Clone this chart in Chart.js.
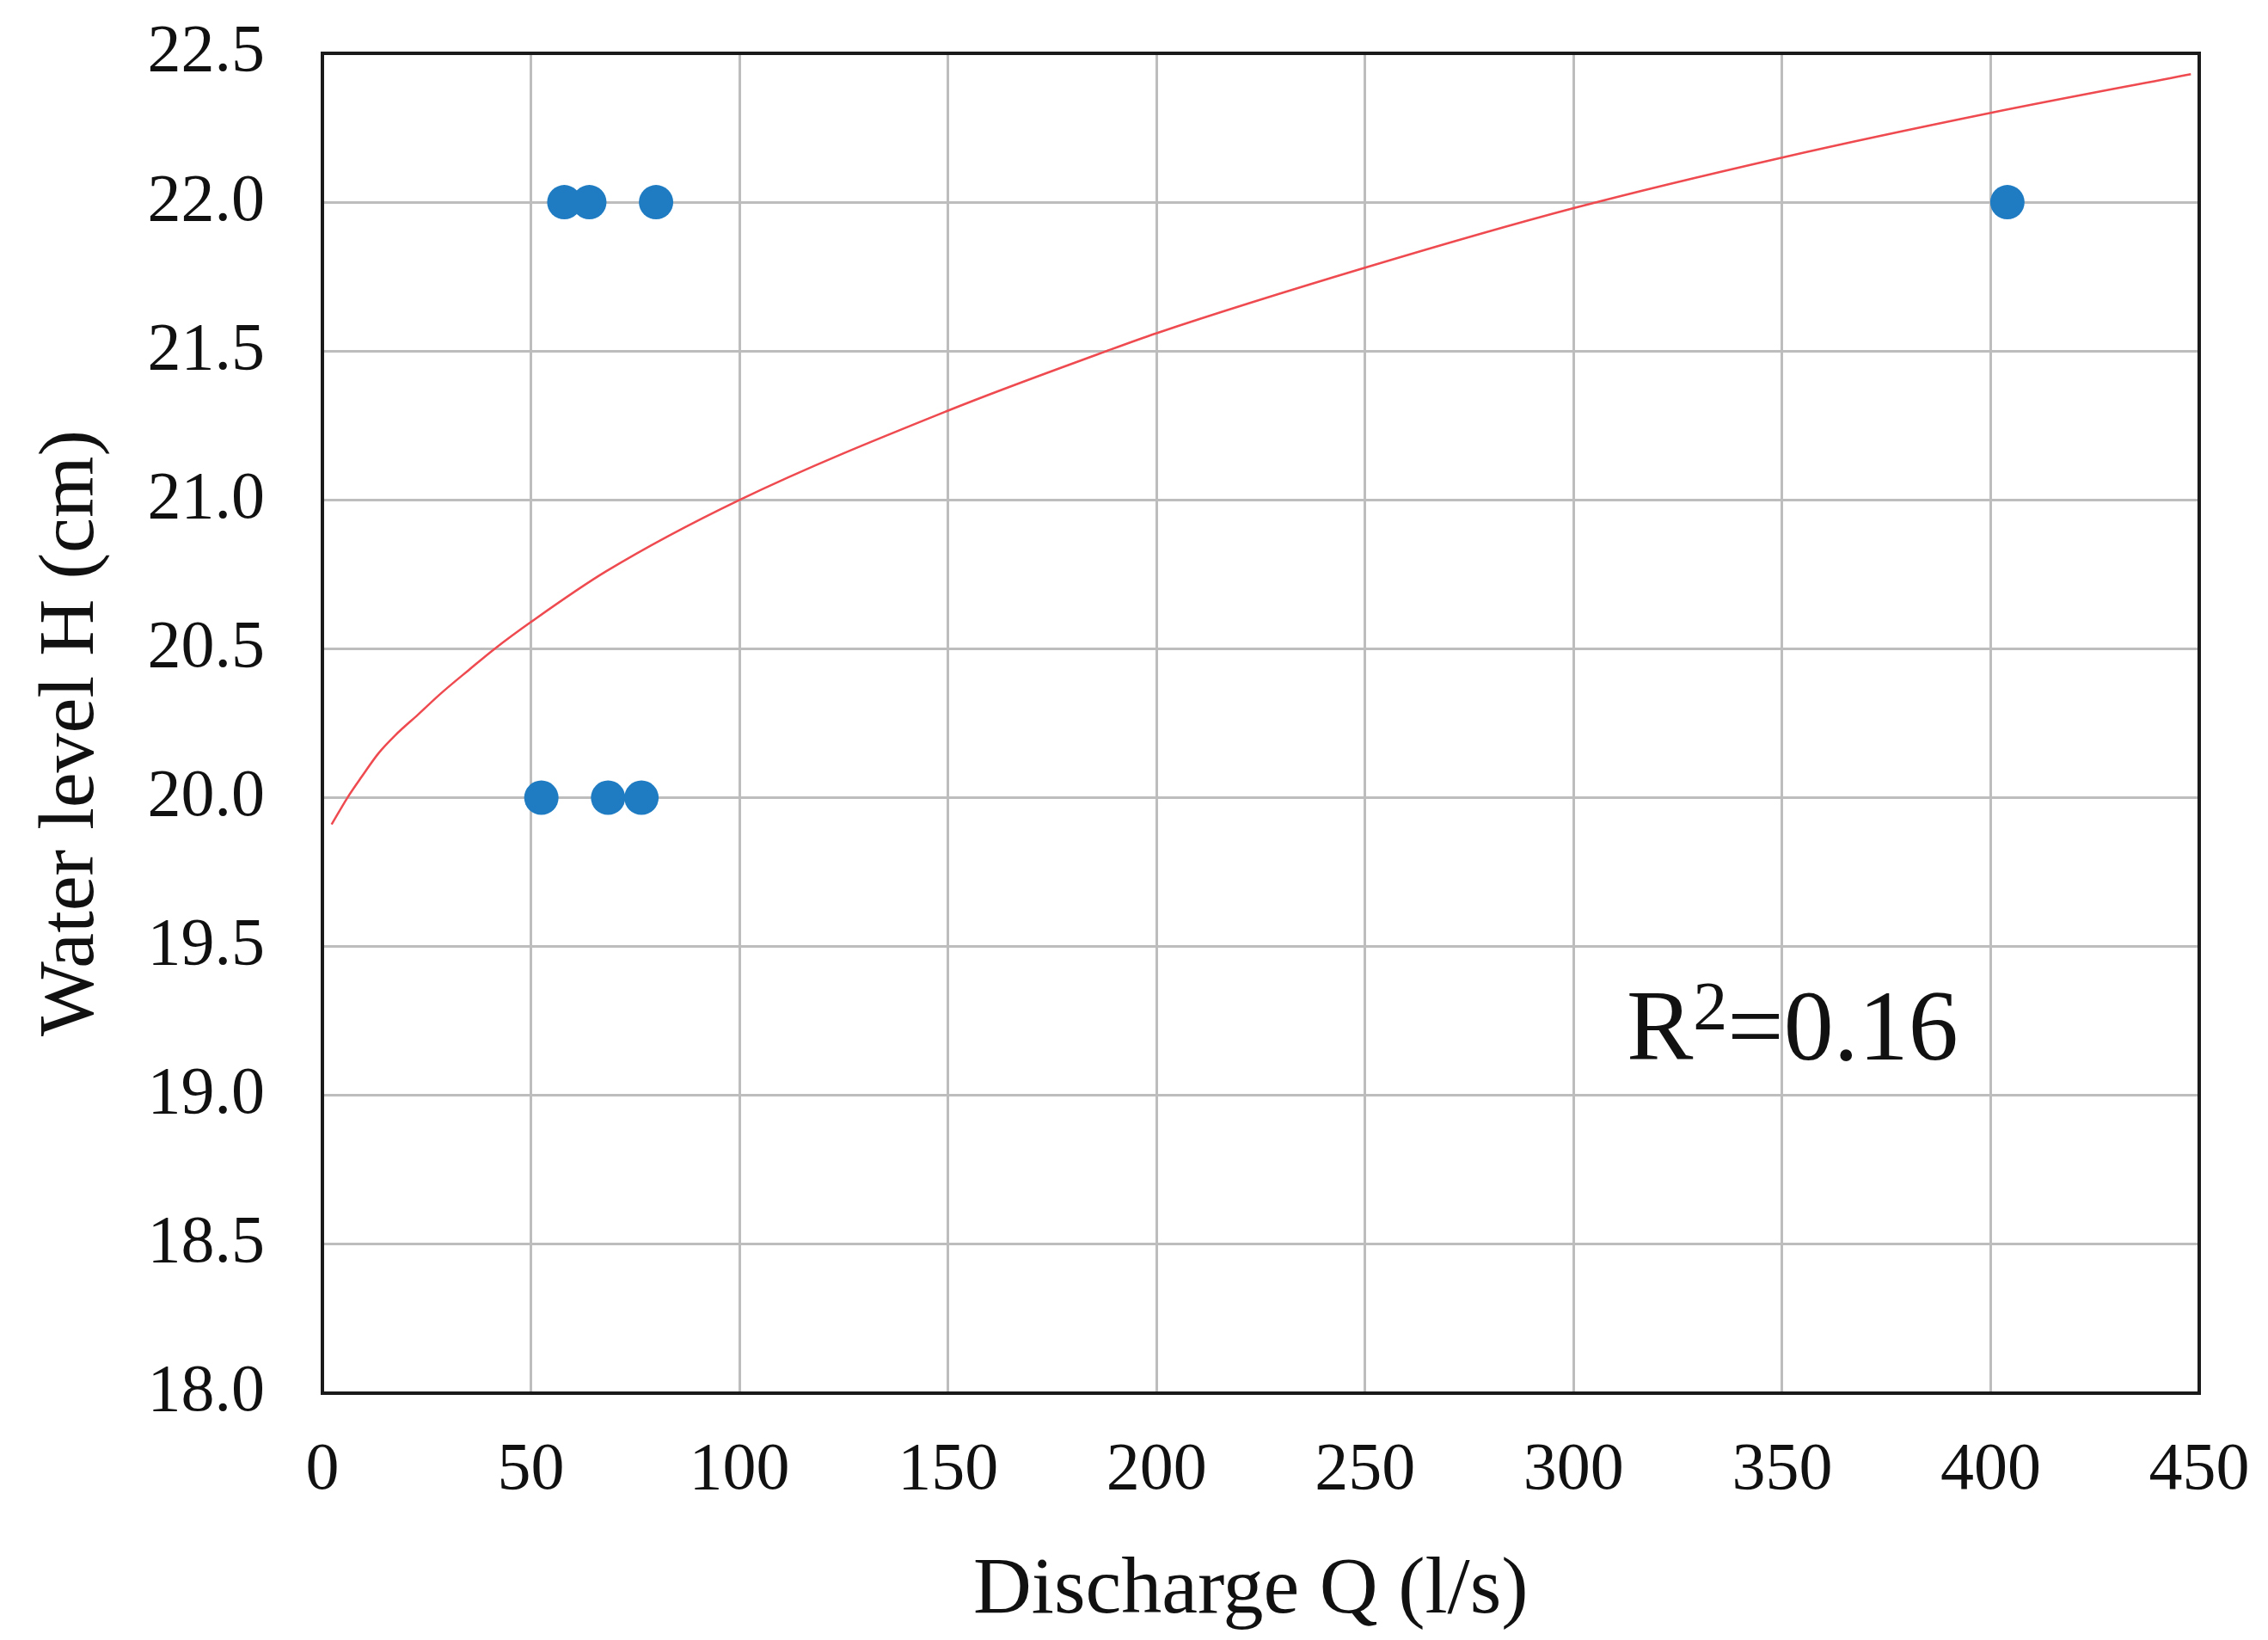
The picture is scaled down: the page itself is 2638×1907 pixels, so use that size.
<!DOCTYPE html>
<html>
<head>
<meta charset="utf-8">
<title>Water level vs discharge</title>
<script src="https://cdn.jsdelivr.net/npm/chart.js@4.4.1/dist/chart.umd.min.js"></script>
<style>
    html, body { margin: 0; padding: 0; background: #ffffff; }
    #rating { display: block; }
</style>
</head>
<body>
<canvas id="rating" width="2638" height="1907"></canvas>
<script>
// Measured points (Q in l/s, H in cm)
const pointQ = [58, 64, 80, 404, 52.5, 68.5, 76.5];
const pointH = [22.0, 22.0, 22.0, 22.0, 20.0, 20.0, 20.0];

// Fitted curve
const curveQ = [2.2, 6, 9.4, 13.5, 17.5, 23, 28.4, 35.2, 41.3, 50, 68, 100, 150, 188, 200, 250, 300, 350, 400, 448];
const curveH = [19.91, 20.0, 20.07, 20.15, 20.21, 20.28, 20.35, 20.43, 20.5, 20.59, 20.76, 21.0, 21.3, 21.5, 21.56, 21.78, 21.98, 22.15, 22.3, 22.43];

// Axis ticks
const xTicks = [0, 50, 100, 150, 200, 250, 300, 350, 400, 450];
const yTicks = [18.0, 18.5, 19.0, 19.5, 20.0, 20.5, 21.0, 21.5, 22.0, 22.5];
const yTickLabels = ["18.0", "18.5", "19.0", "19.5", "20.0", "20.5", "21.0", "21.5", "22.0", "22.5"];

const r2Text = "0.16";
const serif = "'Liberation Serif', 'Times New Roman', serif";

// frame round the plot area
const framePlugin = {
    id: "frame",
    afterDatasetsDraw(chart) {
        const { ctx, chartArea: a } = chart;
        ctx.save();
        ctx.strokeStyle = "#1a1a1a";
        ctx.lineWidth = 4;
        ctx.strokeRect(a.left, a.top, a.right - a.left, a.bottom - a.top);
        ctx.restore();
    }
};

// R² label inside the plot
const r2Plugin = {
    id: "r2label",
    afterDraw(chart) {
        const { ctx, scales } = chart;
        let x = scales.x.getPixelForValue(312.7);
        const y = scales.y.getPixelForValue(19.12);
        ctx.save();
        ctx.fillStyle = "#111";
        ctx.textBaseline = "alphabetic";
        ctx.textAlign = "left";
        ctx.font = "116px " + serif;
        ctx.fillText("R", x, y);
        x += ctx.measureText("R").width;
        ctx.font = "80px " + serif;
        ctx.fillText("2", x, y - 35);
        x += ctx.measureText("2").width;
        ctx.font = "116px " + serif;
        ctx.fillText("=" + r2Text, x, y);
        ctx.restore();
    }
};

const pointData = pointQ.map((q, i) => ({ x: q, y: pointH[i] }));
const curveData = curveQ.map((q, i) => ({ x: q, y: curveH[i] }));

new Chart(document.getElementById("rating"), {
    type: "scatter",
    data: {
        datasets: [
            {
                label: "Fit",
                data: curveData,
                showLine: true,
                borderColor: "#ee4a4f",
                borderWidth: 2.5,
                pointRadius: 0,
                cubicInterpolationMode: "monotone",
                fill: false
            },
            {
                label: "Measured",
                data: pointData,
                backgroundColor: "#1f7cc2",
                borderWidth: 0,
                pointRadius: 20
            }
        ]
    },
    options: {
        responsive: false,
        animation: false,
        devicePixelRatio: 1,
        layout: { padding: { top: 62, right: 80, left: 0, bottom: 0 } },
        plugins: {
            legend: { display: false },
            tooltip: { enabled: false }
        },
        scales: {
            x: {
                type: "linear",
                min: 0,
                max: 450,
                afterBuildTicks: (scale) => { scale.ticks = xTicks.map(v => ({ value: v })); },
                afterFit: (scale) => {
                    // fixed size, and no extra room for the end labels
                    scale.height = 287;
                    scale.paddingLeft = 0;
                    scale.paddingRight = 0;
                },
                grid: { color: "#bdbdbd", lineWidth: 3, drawTicks: false },
                border: { display: false },
                ticks: {
                    padding: 44,
                    color: "#111",
                    font: { family: serif, size: 78 },
                    maxRotation: 0,
                    callback: (v) => String(v)
                },
                title: {
                    display: true,
                    text: "Discharge Q (l/s) ",
                    color: "#111",
                    font: { family: serif, size: 94 },
                    padding: { top: 0, bottom: 0 }
                }
            },
            y: {
                type: "linear",
                min: 18,
                max: 22.5,
                afterBuildTicks: (scale) => { scale.ticks = yTicks.map(v => ({ value: v })); },
                afterFit: (scale) => {
                    scale.width = 375;
                    scale.paddingTop = 0;
                    scale.paddingBottom = 0;
                },
                grid: { color: "#bdbdbd", lineWidth: 3, drawTicks: false },
                border: { display: false },
                ticks: {
                    padding: 67,
                    color: "#111",
                    font: { family: serif, size: 78 },
                    callback: (v) => {
                        const i = yTicks.findIndex(t => Math.abs(t - v) < 1e-6);
                        return i >= 0 ? yTickLabels[i] : "";
                    }
                },
                title: {
                    display: true,
                    text: "Water level H (cm) ",
                    color: "#111",
                    font: { family: serif, size: 92 },
                    padding: { top: 29, bottom: 0 }
                }
            }
        }
    },
    plugins: [framePlugin, r2Plugin]
});
</script>
</body>
</html>
